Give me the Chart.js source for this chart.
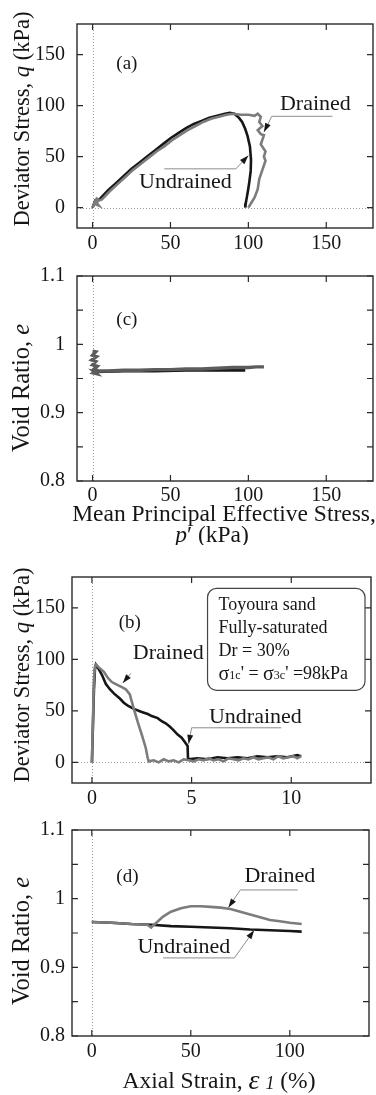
<!DOCTYPE html>
<html>
<head>
<meta charset="utf-8">
<script src="https://cdn.jsdelivr.net/npm/chart.js@4.4.1/dist/chart.umd.min.js"></script>
<style>
  html, body { margin: 0; background: #fff; }
  #wrap { position: relative; width: 376px; height: 1095px; background: #fff; overflow: hidden; }
  #wrap canvas { position: absolute; left: 0; }
</style>
</head>
<body>
<div id="wrap">
  <canvas id="panelA" width="376" height="252" style="top:0px"></canvas>
  <canvas id="panelC" width="376" height="293" style="top:252px"></canvas>
  <canvas id="panelB" width="376" height="260" style="top:545px"></canvas>
  <canvas id="panelD" width="376" height="290" style="top:805px"></canvas>
</div>
<script>
// tick values
const ticksStress = [0, 50, 100, 150];
const ticksVoid = [0.8, 0.85, 0.9, 0.95, 1, 1.05, 1.1];
const ticksStrainB = [0, 5, 10];
const ticksStrainD = [0, 50, 100];

// (a) stress path q vs p'
const pA_undr = [0, 2, 1, 3, 5, 10, 15, 20, 25, 30, 35, 40, 45, 50, 55, 60, 65, 70, 75, 80, 85, 88, 91, 94, 96, 98, 99.5, 101, 101.7, 101.5, 100.6, 99.8, 99, 98.3, 98];
const qA_undr = [0, 8, 3, 6, 9, 17, 24, 31, 38, 44, 50, 56, 62, 68, 73, 78, 82, 85, 88, 90, 92, 93, 92, 88, 84, 77, 70, 60, 47, 36, 25, 17, 10, 4, 0];
const pA_dr = [0, 3, 1, 4, 2, 6, 11, 16, 21, 26, 31, 36, 41, 46, 51, 56, 61, 66, 71, 76, 81, 86, 90, 95, 100, 104, 106, 108, 107, 109, 106, 108, 110, 108, 111, 110, 111, 109, 107, 106, 104, 102, 100];
const qA_dr = [0, 10, 4, 2, 6, 8, 16, 23, 30, 37, 43, 49, 55, 60, 66, 71, 76, 80, 84, 87, 89, 91, 92, 91, 91, 90, 92, 89, 84, 80, 76, 72, 71, 62, 55, 50, 46, 37, 28, 18, 10, 5, 0];

// (c) void ratio vs p'
const pC_undr = [0, 1, 2, 20, 40, 60, 80, 98];
const eC_undr = [0.960, 0.962, 0.960, 0.961, 0.961, 0.962, 0.962, 0.962];
const pC_dr = [0, 2, 0, 2.5, -0.5, 2, 0, 3, 1, 3, 0.5, 2.5, 1, 3, 5, 10, 20, 30, 40, 50, 60, 70, 80, 90, 100, 105, 110];
const eC_dr = [0.990, 0.989, 0.984, 0.982, 0.977, 0.975, 0.970, 0.968, 0.964, 0.962, 0.958, 0.957, 0.960, 0.959, 0.961, 0.961, 0.962, 0.962, 0.963, 0.963, 0.964, 0.964, 0.965, 0.966, 0.966, 0.967, 0.967];

// (b) q vs axial strain
const epsB_undr = [0, 0.05, 0.1, 0.15, 0.2, 0.3, 0.5, 0.7, 0.9, 1.1, 1.4, 1.6, 1.8, 2.1, 2.5, 2.8, 3.0, 3.3, 3.5, 3.7, 3.9, 4.1, 4.3, 4.5, 4.65, 4.8, 4.82, 5.3, 5.8, 6.3, 6.8, 7.3, 7.8, 8.3, 8.8, 9.3, 9.8, 10.3, 10.5];
const qB_undr = [0, 35, 70, 90, 95, 92, 85, 76, 71, 67, 62, 58, 55, 52, 49, 47, 45, 43, 40, 38, 35, 31, 27, 24, 20, 16, 3, 4, 3, 5, 4, 5, 4, 6, 5, 6, 5, 7, 6];
const epsB_dr = [0, 0.05, 0.1, 0.15, 0.2, 0.36, 0.6, 0.8, 1.0, 1.2, 1.5, 1.7, 1.9, 2.1, 2.3, 2.5, 2.7, 2.8, 2.85, 3.1, 3.35, 3.6, 3.85, 4.1, 4.35, 4.6, 4.85, 5.1, 5.35, 5.6, 5.85, 6.1, 6.35, 6.6, 6.85, 7.1, 7.35, 7.6, 7.85, 8.1, 8.35, 8.6, 8.85, 9.1, 9.35, 9.6, 9.85, 10.1, 10.3, 10.5];
const qB_dr = [0, 40, 80, 93, 95, 92, 88, 82, 78, 76, 73, 71, 66, 52, 39, 27, 14, 4, 1, 2, 0, 3, 1, 2, 0, 3, 2, 1, 3, 2, 4, 2, 3, 1, 4, 3, 2, 4, 3, 5, 3, 4, 5, 3, 6, 4, 5, 6, 4, 6];

// (d) void ratio vs axial strain
const epsD_undr = [0, 10, 20, 30, 40, 50, 60, 70, 80, 90, 100, 106];
const eD_undr = [0.966, 0.965, 0.963, 0.962, 0.960, 0.959, 0.958, 0.957, 0.955, 0.954, 0.953, 0.952];
const epsD_dr = [0, 10, 20, 28, 30, 31, 33, 36, 40, 45, 50, 55, 60, 65, 70, 75, 80, 85, 90, 95, 100, 106];
const eD_dr = [0.966, 0.965, 0.963, 0.962, 0.958, 0.961, 0.966, 0.974, 0.981, 0.986, 0.989, 0.989, 0.988, 0.987, 0.985, 0.981, 0.977, 0.973, 0.969, 0.967, 0.965, 0.963];

const SERIF = '"Liberation Serif", "DejaVu Serif", serif';
const INK = '#161616';
const GRAY = '#7c7c7c';
const W = 376;

function pts(xs, ys) {
  return xs.map((x, i) => ({ x: x, y: ys[i] }));
}

function line(xs, ys, color, order, width) {
  return { data: pts(xs, ys), showLine: true, borderColor: color, borderWidth: width || 2.6,
           pointRadius: 0, tension: 0, order: order };
}

function fontOf(r, base) {
  return (r.i ? 'italic ' : '') + (r.s || base) + 'px ' + SERIF;
}

// draw a row of text runs (mixed italic / sizes) centred or left aligned at (x, y)
function drawRuns(ctx, runs, x, y, base, align) {
  let total = 0;
  runs.forEach(r => { ctx.font = fontOf(r, base); total += ctx.measureText(r.t).width; });
  let cx = align === 'left' ? x : x - total / 2;
  ctx.textBaseline = 'middle';
  ctx.textAlign = 'left';
  runs.forEach(r => {
    ctx.font = fontOf(r, base);
    ctx.fillText(r.t, cx, y + (r.dy || 0));
    cx += ctx.measureText(r.t).width;
  });
}

// plot frame, dotted zero lines and inward tick marks
const frame = {
  id: 'frame',
  beforeDatasetsDraw(chart, args, opts) {
    const { ctx, chartArea: a, scales: { x, y } } = chart;
    ctx.save();
    ctx.strokeStyle = '#9c9c9c';
    ctx.lineWidth = 1;
    ctx.setLineDash([1, 2]);
    (opts.zero || []).forEach(axis => {
      ctx.beginPath();
      if (axis === 'x') {
        const px = Math.round(x.getPixelForValue(0)) + 0.5;
        ctx.moveTo(px, a.top); ctx.lineTo(px, a.bottom);
      } else {
        const py = Math.round(y.getPixelForValue(0)) + 0.5;
        ctx.moveTo(a.left, py); ctx.lineTo(a.right, py);
      }
      ctx.stroke();
    });
    ctx.restore();
  },
  afterDatasetsDraw(chart) {
    const { ctx, chartArea: a, scales: { x, y } } = chart;
    ctx.save();
    ctx.strokeStyle = '#2a2a2a';
    ctx.lineWidth = 1.4;
    ctx.strokeRect(a.left, a.top, a.right - a.left, a.bottom - a.top);
    ctx.lineWidth = 1.2;
    ctx.beginPath();
    x.ticks.forEach(t => {
      const px = x.getPixelForValue(t.value);
      ctx.moveTo(px, a.top); ctx.lineTo(px, a.top + 6);
      ctx.moveTo(px, a.bottom); ctx.lineTo(px, a.bottom - 6);
    });
    y.ticks.forEach(t => {
      const py = y.getPixelForValue(t.value);
      ctx.moveTo(a.left, py); ctx.lineTo(a.left + 6, py);
      ctx.moveTo(a.right, py); ctx.lineTo(a.right - 6, py);
    });
    ctx.stroke();
    ctx.restore();
  }
};

// axis titles, panel tags, leader arrows and the specimen box
const notes = {
  id: 'notes',
  afterDraw(chart, args, o) {
    const { ctx, scales: { x, y } } = chart;
    const P = v => [x.getPixelForValue(v[0]), y.getPixelForValue(v[1])];
    ctx.save();
    ctx.fillStyle = INK;

    (o.titles || []).forEach(t => {
      ctx.save();
      ctx.translate(t.x, t.y);
      if (t.rot) ctx.rotate(-Math.PI / 2);
      drawRuns(ctx, t.runs, 0, 0, t.size);
      ctx.restore();
    });

    if (o.tag) {
      const p = P(o.tag.at);
      drawRuns(ctx, [{ t: o.tag.text }], p[0], p[1], 19);
    }

    (o.labels || []).forEach(l => {
      const p = P(l.at);
      drawRuns(ctx, [{ t: l.text }], p[0], p[1], 22);
    });

    (o.leaders || []).forEach(path => {
      const px = path.map(P);
      ctx.strokeStyle = '#8c8c8c';
      ctx.lineWidth = 1;
      ctx.beginPath();
      px.forEach((p, i) => i ? ctx.lineTo(p[0], p[1]) : ctx.moveTo(p[0], p[1]));
      ctx.stroke();
      const [bx, by] = px[px.length - 2];
      const [tx, ty] = px[px.length - 1];
      const ang = Math.atan2(ty - by, tx - bx);
      const c = Math.cos(ang), s = Math.sin(ang);
      ctx.fillStyle = INK;
      ctx.beginPath();
      ctx.moveTo(tx, ty);
      ctx.lineTo(tx - 9 * c + 3 * s, ty - 9 * s - 3 * c);
      ctx.lineTo(tx - 9 * c - 3 * s, ty - 9 * s + 3 * c);
      ctx.closePath();
      ctx.fill();
    });

    if (o.box) {
      const [x0, y0] = P(o.box.from);
      const [x1, y1] = P(o.box.to);
      ctx.strokeStyle = '#444';
      ctx.lineWidth = 1.2;
      ctx.fillStyle = '#fff';
      ctx.beginPath();
      ctx.roundRect(x0, y0, x1 - x0, y1 - y0, 9);
      ctx.fill();
      ctx.stroke();
      ctx.fillStyle = INK;
      o.box.lines.forEach((runs, i) => {
        drawRuns(ctx, runs, x0 + 11, y0 + 17 + i * 23, 18, 'left');
      });
    }
    ctx.restore();
  }
};

function makeChart(id, cfg) {
  const H = document.getElementById(id).height;
  const area = cfg.area;
  const tickFont = { family: SERIF, size: 20 };
  return new Chart(document.getElementById(id), {
    type: 'scatter',
    data: { datasets: cfg.datasets },
    options: {
      responsive: false,
      animation: false,
      devicePixelRatio: 1,
      layout: { autoPadding: false, padding: { top: area.top, right: W - area.right, left: 0, bottom: 0 } },
      plugins: {
        legend: { display: false },
        tooltip: { enabled: false },
        frame: { zero: cfg.zero },
        notes: cfg.notes
      },
      scales: {
        x: {
          type: 'linear', min: cfg.x.min, max: cfg.x.max,
          grid: { display: false, drawTicks: false },
          border: { display: false },
          ticks: { font: tickFont, color: INK, padding: cfg.x.pad, autoSkip: false,
                   maxRotation: 0, callback: v => String(v) },
          afterBuildTicks: s => { s.ticks = cfg.x.ticks.map(v => ({ value: v })); },
          afterFit: s => { s.height = H - area.bottom; }
        },
        y: {
          type: 'linear', min: cfg.y.min, max: cfg.y.max,
          grid: { display: false, drawTicks: false },
          border: { display: false },
          ticks: { font: tickFont, color: INK, padding: cfg.y.pad, autoSkip: false,
                   callback: cfg.y.fmt },
          afterBuildTicks: s => { s.ticks = cfg.y.ticks.map(v => ({ value: v })); },
          afterFit: s => { s.width = area.left; }
        }
      }
    },
    plugins: [frame, notes]
  });
}

const qFmt = v => String(v);
// void ratio labels only every 0.1, written as 0.8, 0.9, 1, 1.1
const eFmt = v => Math.abs(v * 10 - Math.round(v * 10)) < 1e-6 ? String(Math.round(v * 10) / 10) : '';

const qTitle = [{ t: 'Deviator Stress, ' }, { t: 'q', i: true }, { t: ' (kPa)' }];
const eTitle = [{ t: 'Void Ratio, ' }, { t: 'e', i: true }];

const chartA = makeChart('panelA', {
  area: { left: 77, top: 18, right: 373, bottom: 228 },
  x: { min: -10, max: 180, ticks: ticksStress, pad: 4 },
  y: { min: -20, max: 180, ticks: ticksStress, pad: 12, fmt: qFmt },
  zero: ['x', 'y'],
  datasets: [line(pA_undr, qA_undr, INK, 2), line(pA_dr, qA_dr, GRAY, 1)],
  notes: {
    titles: [{ runs: qTitle, x: 23, y: 119, rot: true, size: 22.5 }],
    tag: { text: '(a)', at: [22, 141] },
    labels: [{ text: 'Drained', at: [143, 101] }, { text: 'Undrained', at: [59.6, 24.8] }],
    leaders: [[[154, 89.5], [115, 89.5], [110, 74]], [[46, 38], [92, 38], [100, 51]]]
  }
});

const chartC = makeChart('panelC', {
  area: { left: 77, top: 21, right: 373, bottom: 229 },
  x: { min: -10, max: 180, ticks: ticksStress, pad: 3 },
  y: { min: 0.8, max: 1.1, ticks: ticksVoid, pad: 12, fmt: eFmt },
  zero: ['x'],
  datasets: [line(pC_undr, eC_undr, INK, 2, 3), line(pC_dr, eC_dr, '#5c5c5c', 1, 3.4)],
  notes: {
    titles: [
      { runs: eTitle, x: 23, y: 136, rot: true, size: 24.5 },
      { runs: [{ t: 'Mean Principal Effective Stress,' }], x: 224, y: 263, size: 23.5 },
      { runs: [{ t: 'p', i: true }, { t: '′ (kPa)' }], x: 212, y: 284, size: 23.5 }
    ],
    tag: { text: '(c)', at: [22, 1.035] }
  }
});

const chartB = makeChart('panelB', {
  area: { left: 72, top: 32, right: 371, bottom: 238 },
  x: { min: -1, max: 14, ticks: ticksStrainB, pad: 4 },
  y: { min: -20, max: 180, ticks: ticksStress, pad: 7, fmt: qFmt },
  zero: ['x', 'y'],
  datasets: [line(epsB_undr, qB_undr, INK, 2), line(epsB_dr, qB_dr, GRAY, 1)],
  notes: {
    titles: [{ runs: qTitle, x: 23, y: 130, rot: true, size: 22.5 }],
    tag: { text: '(b)', at: [1.9, 135.6] },
    labels: [{ text: 'Drained', at: [3.83, 105.8] }, { text: 'Undrained', at: [8.2, 44] }],
    leaders: [[[1.95, 86.5], [1.55, 77]], [[9.5, 33.6], [5.0, 33.6], [4.85, 18]]],
    box: {
      from: [5.8, 169], to: [13.7, 70],
      lines: [
        [{ t: 'Toyoura sand' }],
        [{ t: 'Fully-saturated' }],
        [{ t: 'Dr = 30%' }],
        [{ t: 'σ', s: 20 }, { t: '1c', s: 12, dy: 2 }, { t: "' = " }, { t: 'σ', s: 20 }, { t: '3c', s: 12, dy: 2 }, { t: "' =98kPa" }]
      ]
    }
  }
});

const chartD = makeChart('panelD', {
  area: { left: 72, top: 25, right: 369, bottom: 231 },
  x: { min: -10, max: 140, ticks: ticksStrainD, pad: 4 },
  y: { min: 0.8, max: 1.1, ticks: ticksVoid, pad: 7, fmt: eFmt },
  zero: ['x'],
  datasets: [line(epsD_undr, eD_undr, INK, 2), line(epsD_dr, eD_dr, GRAY, 1)],
  notes: {
    titles: [
      { runs: eTitle, x: 23, y: 136, rot: true, size: 24.5 },
      { runs: [{ t: 'Axial Strain, ' }, { t: 'ε', i: true, s: 28 }, { t: ' ' }, { t: '1', i: true, s: 18, dy: 2 }, { t: ' (%)' }],
        x: 219, y: 277, size: 23.5 }
    ],
    tag: { text: '(d)', at: [18, 1.032] },
    labels: [{ text: 'Drained', at: [95, 1.032] }, { text: 'Undrained', at: [46.5, 0.93] }],
    leaders: [[[104, 1.0127], [75, 1.0127], [69, 0.987]], [[36, 0.9137], [72, 0.9137], [82, 0.954]]]
  }
});
</script>
</body>
</html>
